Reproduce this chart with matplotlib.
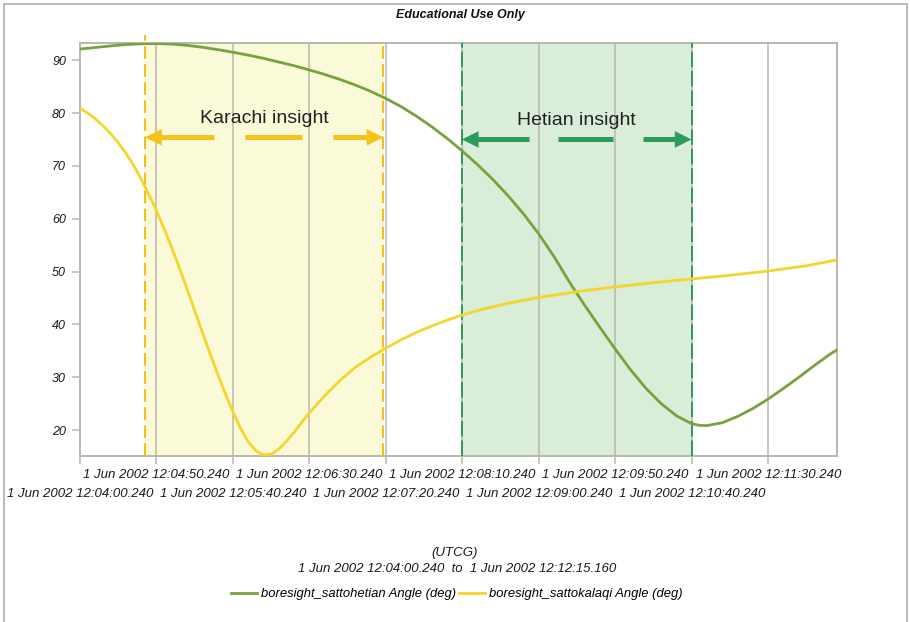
import matplotlib.pyplot as plt
from matplotlib.patches import Rectangle

# elapsed seconds from 1 Jun 2002 12:04:00.240 UTCG
hetian_t = [0, 10, 20, 30, 40, 50, 60, 70, 80, 90, 100, 110, 120, 130, 140, 150, 160, 170,
            180, 190, 200, 210, 220, 230, 240, 250, 260, 270, 280, 290, 300, 310, 320, 330,
            340, 350, 360, 370, 380, 390, 400, 405, 410, 420, 430, 440, 450, 460, 470, 480,
            490, 495]
hetian_angle = [92.1, 92.4, 92.7, 92.95, 93.1, 93.15, 93.05, 92.8, 92.45, 92.0, 91.5, 90.95,
                90.35, 89.65, 88.95, 88.15, 87.3, 86.35, 85.3, 84.1, 82.75, 81.2, 79.4, 77.4,
                75.2, 72.8, 70.2, 67.4, 64.3, 60.9, 57.1, 52.8, 48.0, 43.6, 39.4, 35.3, 31.4,
                27.9, 25.0, 22.7, 21.2, 20.9, 20.85, 21.4, 22.6, 24.1, 25.9, 27.9, 30.0, 32.2,
                34.3, 35.2]

kalaqi_t = [0, 5, 10, 15, 20, 25, 30, 35, 40, 45, 50, 55, 60, 65, 70, 75, 80, 85, 90, 95,
            100, 105, 110, 115, 120, 125, 130, 135, 140, 145, 150, 160, 170, 180, 190, 200,
            210, 220, 230, 240, 250, 265, 280, 300, 325, 350, 375, 400, 425, 450, 475, 495]
kalaqi_angle = [80.9, 80.0, 78.9, 77.6, 76.1, 74.4, 72.4, 70.1, 67.5, 64.6, 61.5, 58.1, 54.5,
                50.7, 46.7, 42.6, 38.5, 34.5, 30.6, 26.9, 23.4, 20.3, 17.8, 16.1, 15.3, 15.4,
                16.4, 17.9, 19.6, 21.5, 23.3, 26.5, 29.4, 31.9, 33.8, 35.5, 37.1, 38.5, 39.7,
                40.8, 41.8, 43.0, 44.0, 45.1, 46.2, 47.1, 47.9, 48.6, 49.3, 50.1, 51.1, 52.2]

top_ticks = [50, 150, 250, 350, 450]
top_labels = ["1 Jun 2002 12:04:50.240", "1 Jun 2002 12:06:30.240",
              "1 Jun 2002 12:08:10.240", "1 Jun 2002 12:09:50.240",
              "1 Jun 2002 12:11:30.240"]
bottom_ticks = [0, 100, 200, 300, 400]
bottom_labels = ["1 Jun 2002 12:04:00.240", "1 Jun 2002 12:05:40.240",
                 "1 Jun 2002 12:07:20.240", "1 Jun 2002 12:09:00.240",
                 "1 Jun 2002 12:10:40.240"]
end_t = 494.92

karachi_span = (42.6, 198.3)
hetian_span = (249.7, 399.8)

GREEN = '#78a23e'
YELLOW = '#f6d52a'
GRAY = '#b8b8ae'

plt.rcParams['font.family'] = ['Liberation Sans', 'DejaVu Sans']

fig = plt.figure(figsize=(9.1, 6.22), dpi=100)
ax = fig.add_axes([80/910, 166/622, 757/910, 413/622])

ax.axvspan(*karachi_span, color='#fafad8', lw=0, zorder=0)
ax.axvspan(*hetian_span, color='#d9edd9', lw=0, zorder=0)

for t in sorted(top_ticks + bottom_ticks[1:]):
    ax.axvline(t, color=GRAY, lw=1.1, zorder=1)

ax.plot(hetian_t, hetian_angle, color=GREEN, lw=2, zorder=4, label='boresight_sattohetian Angle (deg)')
ax.plot(kalaqi_t, kalaqi_angle, color=YELLOW, lw=2, zorder=4, label='boresight_sattokalaqi Angle (deg)')

ax.set_xlim(0, end_t)
ax.set_ylim(15.1, 93.25)
y0, y1 = ax.get_ylim()

# span edges
ax.plot([karachi_span[0]] * 2, [y0, y1 + 1.6], color='#f5b800', lw=1.3, dashes=(7, 3),
        clip_on=False, zorder=3)
ax.plot([karachi_span[1]] * 2, [y0, y1], color='#f5b800', lw=1.3, dashes=(7, 3), zorder=3)
for t in hetian_span:
    ax.plot([t, t], [y0, y1], color='#2e9a5c', lw=1.4, dashes=(8, 2), zorder=3)


def span_arrow(span, y, color, text):
    a, b = span
    w = b - a
    for p0, p1 in [(0.05, 0.29), (0.42, 0.66), (0.79, 0.95)]:
        ax.plot([a + p0 * w, a + p1 * w], [y, y], color=color, lw=3.6,
                solid_capstyle='butt', zorder=5)
    style = dict(arrowstyle='-|>,head_length=1.2,head_width=0.6', color=color, lw=0,
                 shrinkA=0, shrinkB=0)
    ax.annotate('', xy=(a, y), xytext=(a + 0.15 * w, y), arrowprops=style, zorder=6)
    ax.annotate('', xy=(b, y), xytext=(b - 0.15 * w, y), arrowprops=style, zorder=6)
    ax.text((a + b) / 2, y + 3.6, text, ha='center', va='center', fontsize=14, color='#222222',
            zorder=6)


span_arrow(karachi_span, 75.4, '#f7c21a', 'Karachi insight')
span_arrow(hetian_span, 75.0, '#2e9a5c', 'Hetian insight')

# time labels alternate between two rows
ax.set_xticks(top_ticks)
ax.set_xticklabels(top_labels, fontstyle='italic', fontsize=9.5)
ax.set_xticks(bottom_ticks, minor=True)
ax.set_xticklabels(bottom_labels, minor=True, fontstyle='italic', fontsize=9.5)
ax.tick_params(axis='x', which='both', color=GRAY, length=6, width=1.1, labelcolor='#1a1a1a')
ax.tick_params(axis='x', which='major', pad=3)
ax.tick_params(axis='x', which='minor', pad=17)

ax.set_yticks(range(20, 100, 10))
ax.set_yticklabels([str(v) for v in range(20, 100, 10)], fontstyle='italic', fontsize=9)
ax.tick_params(axis='y', color=GRAY, length=6, width=1.1, labelcolor='#1a1a1a', pad=4)
for s in ax.spines.values():
    s.set_color(GRAY)
    s.set_linewidth(1.4)

fig.text(460/910, 1 - 15/622, 'Educational Use Only', ha='center', va='center',
         fontsize=9, fontweight='bold', fontstyle='italic', color='#111111')
fig.text(455/910, 1 - 553/622, '(UTCG)', ha='center', va='center', fontsize=9.5,
         fontstyle='italic', color='#1a1a1a')
fig.text(457/910, 1 - 569/622, '1 Jun 2002 12:04:00.240  to  1 Jun 2002 12:12:15.160',
         ha='center', va='center', fontsize=9.5, fontstyle='italic', color='#1a1a1a')
fig.legend(loc='center', bbox_to_anchor=(457/910, 1 - 594/622), ncol=2, frameon=False,
           prop={'style': 'italic', 'size': 9.4}, handlelength=2.0, handletextpad=0.3,
           columnspacing=0.2)

fig.patches.append(Rectangle((4/910, -0.05), 903/910, 1.05 - 4/622, transform=fig.transFigure,
                             fill=False, edgecolor='#b0b0a8', lw=1.2))

fig.savefig('out.png', dpi=100)
